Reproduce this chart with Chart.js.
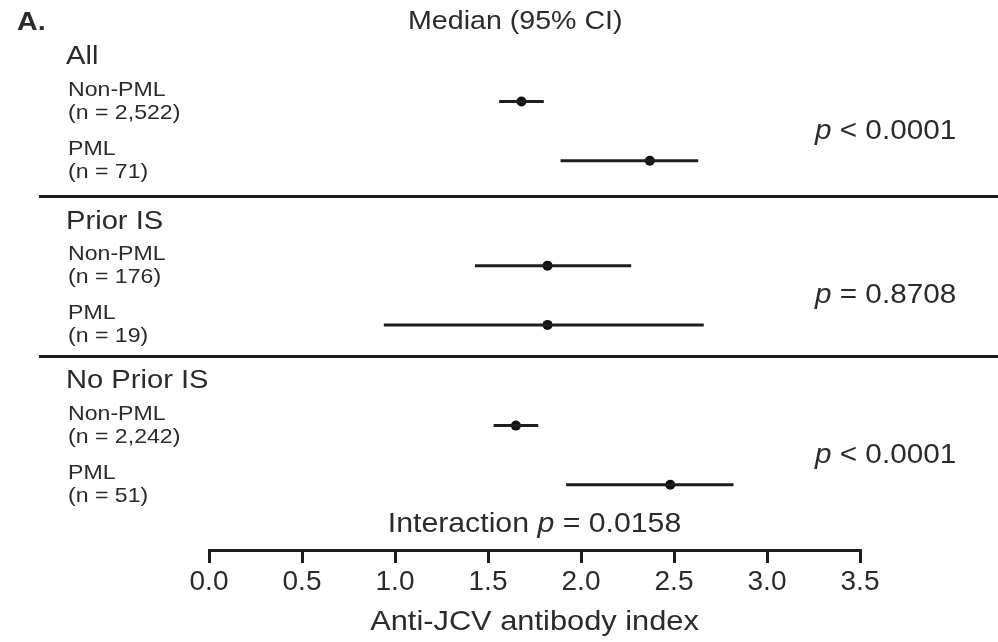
<!DOCTYPE html>
<html>
<head>
<meta charset="utf-8">
<script src="https://cdn.jsdelivr.net/npm/chart.js@4.4.1/dist/chart.umd.min.js"></script>
<style>
  html, body { margin: 0; padding: 0; background: #fff; }
  #wrap { position: relative; width: 998px; height: 642px; }
</style>
</head>
<body>
<div id="wrap"><canvas id="forest"></canvas></div>
<script>
// Anti-JCV antibody index, median with 95% CI, by subgroup
const groups = ['All', 'Prior IS', 'No Prior IS'];
const rowLabels = ['Non-PML', 'PML', 'Non-PML', 'PML', 'Non-PML', 'PML'];
const rowN = ['2,522', '71', '176', '19', '2,242', '51'];
const medians = [1.68, 2.37, 1.82, 1.82, 1.65, 2.48];
const ciLow = [1.56, 1.89, 1.43, 0.94, 1.53, 1.92];
const ciHigh = [1.80, 2.63, 2.27, 2.66, 1.77, 2.82];
const pValues = ['< 0.0001', '= 0.8708', '< 0.0001'];
const interactionP = '= 0.0158';
const xTicks = [0, 0.5, 1.0, 1.5, 2.0, 2.5, 3.0, 3.5];

const INK = '#1e1e1e';
const TEXT = '#2b2b2b';
const FONT = "'Liberation Sans', Arial, Helvetica, sans-serif";
const SX = 1.1;                         // text in this figure is set slightly wide
const GROUP_START = [-0.07, 2.7, 5.4];  // y position of each group's first row

function rowPos(i) {
    return GROUP_START[Math.floor(i / 2)] + (i % 2);
}

// one short line per row for the CI, one dot per row for the median
const ciSets = medians.map((m, i) => ({
    type: 'line',
    data: [{ x: ciLow[i], y: rowPos(i) }, { x: ciHigh[i], y: rowPos(i) }],
    borderColor: INK,
    borderWidth: 3,
    pointRadius: 0,
    borderCapStyle: 'butt'
}));

const medianSet = {
    type: 'scatter',
    data: medians.map((m, i) => ({ x: m, y: rowPos(i) })),
    backgroundColor: '#111',
    borderWidth: 0,
    pointRadius: 5
};

function fontFor(r, size) {
    return (r.italic ? 'italic ' : '') + (r.bold ? 'bold ' : '') + size + 'px ' + FONT;
}

// draws text pieces (some italic) side by side, widened by SX
function drawRuns(ctx, runs, x, y, size, align) {
    let total = 0;
    runs.forEach(r => {
        ctx.font = fontFor(r, size);
        total += ctx.measureText(r.t).width * SX;
    });
    let cx = align === 'center' ? x - total / 2 : x;
    ctx.textAlign = 'left';
    ctx.textBaseline = 'middle';
    ctx.fillStyle = TEXT;
    runs.forEach(r => {
        ctx.font = fontFor(r, size);
        const w = ctx.measureText(r.t).width * SX;
        ctx.save();
        ctx.translate(cx, y);
        ctx.scale(SX, 1);
        ctx.fillText(r.t, 0, 0);
        ctx.restore();
        cx += w;
    });
}

const annotations = {
    id: 'annotations',
    beforeDraw(chart) {
        const ctx = chart.ctx;
        ctx.save();
        ctx.fillStyle = '#fff';
        ctx.fillRect(0, 0, chart.width, chart.height);
        ctx.restore();
    },
    afterDraw(chart) {
        const ctx = chart.ctx;
        const ys = chart.scales.y;
        const xs = chart.scales.x;
        const area = chart.chartArea;
        ctx.save();

        drawRuns(ctx, [{ t: 'A.', bold: true }], 17, 23, 26, 'left');
        drawRuns(ctx, [{ t: 'Median (95% CI)' }], 408, 22, 26, 'left');

        groups.forEach((g, gi) => {
            const first = GROUP_START[gi];
            drawRuns(ctx, [{ t: g }], 66, ys.getPixelForValue(first - 0.75), 26.5, 'left');
            drawRuns(ctx, [{ t: 'p', italic: true }, { t: ' ' + pValues[gi] }],
                815, ys.getPixelForValue(first + 0.5), 27, 'left');
            if (gi > 0) {
                const yd = Math.round(ys.getPixelForValue(first - 1.18)) + 0.5;
                ctx.strokeStyle = INK;
                ctx.lineWidth = 3;
                ctx.beginPath();
                ctx.moveTo(39, yd);
                ctx.lineTo(chart.width, yd);
                ctx.stroke();
            }
        });

        rowLabels.forEach((lab, i) => {
            const yp = ys.getPixelForValue(rowPos(i));
            drawRuns(ctx, [{ t: lab }], 68, yp - 11.5, 21, 'left');
            drawRuns(ctx, [{ t: '(n = ' + rowN[i] + ')' }], 68, yp + 11.5, 21, 'left');
        });

        const midX = (area.left + area.right) / 2;
        drawRuns(ctx, [{ t: 'Interaction ' }, { t: 'p', italic: true }, { t: ' ' + interactionP }],
            midX, ys.getPixelForValue(rowPos(5) + 0.66), 27.5, 'center');

        drawRuns(ctx, [{ t: 'Anti-JCV antibody index' }], midX, xs.bottom + 22, 28, 'center');
        ctx.restore();
    }
};

new Chart(document.getElementById('forest'), {
    type: 'scatter',
    data: { datasets: [...ciSets, medianSet] },
    options: {
        responsive: true,
        maintainAspectRatio: false,
        animation: false,
        events: [],
        layout: { padding: { left: 209, right: 138, top: 0, bottom: 42 } },
        plugins: { legend: { display: false }, tooltip: { enabled: false } },
        scales: {
            x: {
                type: 'linear',
                min: 0,
                max: 3.5,
                afterBuildTicks(scale) {
                    scale.ticks = xTicks.map(v => ({ value: v }));
                },
                afterFit(scale) { scale.height = 50; },
                ticks: {
                    color: TEXT,
                    padding: 2,
                    maxRotation: 0,
                    font: { family: FONT, size: 28 },
                    callback: v => Number(v).toFixed(1)
                },
                grid: {
                    drawOnChartArea: false,
                    drawTicks: true,
                    tickLength: 13,
                    color: INK,
                    lineWidth: 3
                },
                border: { display: true, color: INK, width: 3 }
            },
            y: {
                type: 'linear',
                display: false,
                reverse: true,
                min: -1.7,
                max: 7.5
            }
        }
    },
    plugins: [annotations]
});
</script>
</body>
</html>
